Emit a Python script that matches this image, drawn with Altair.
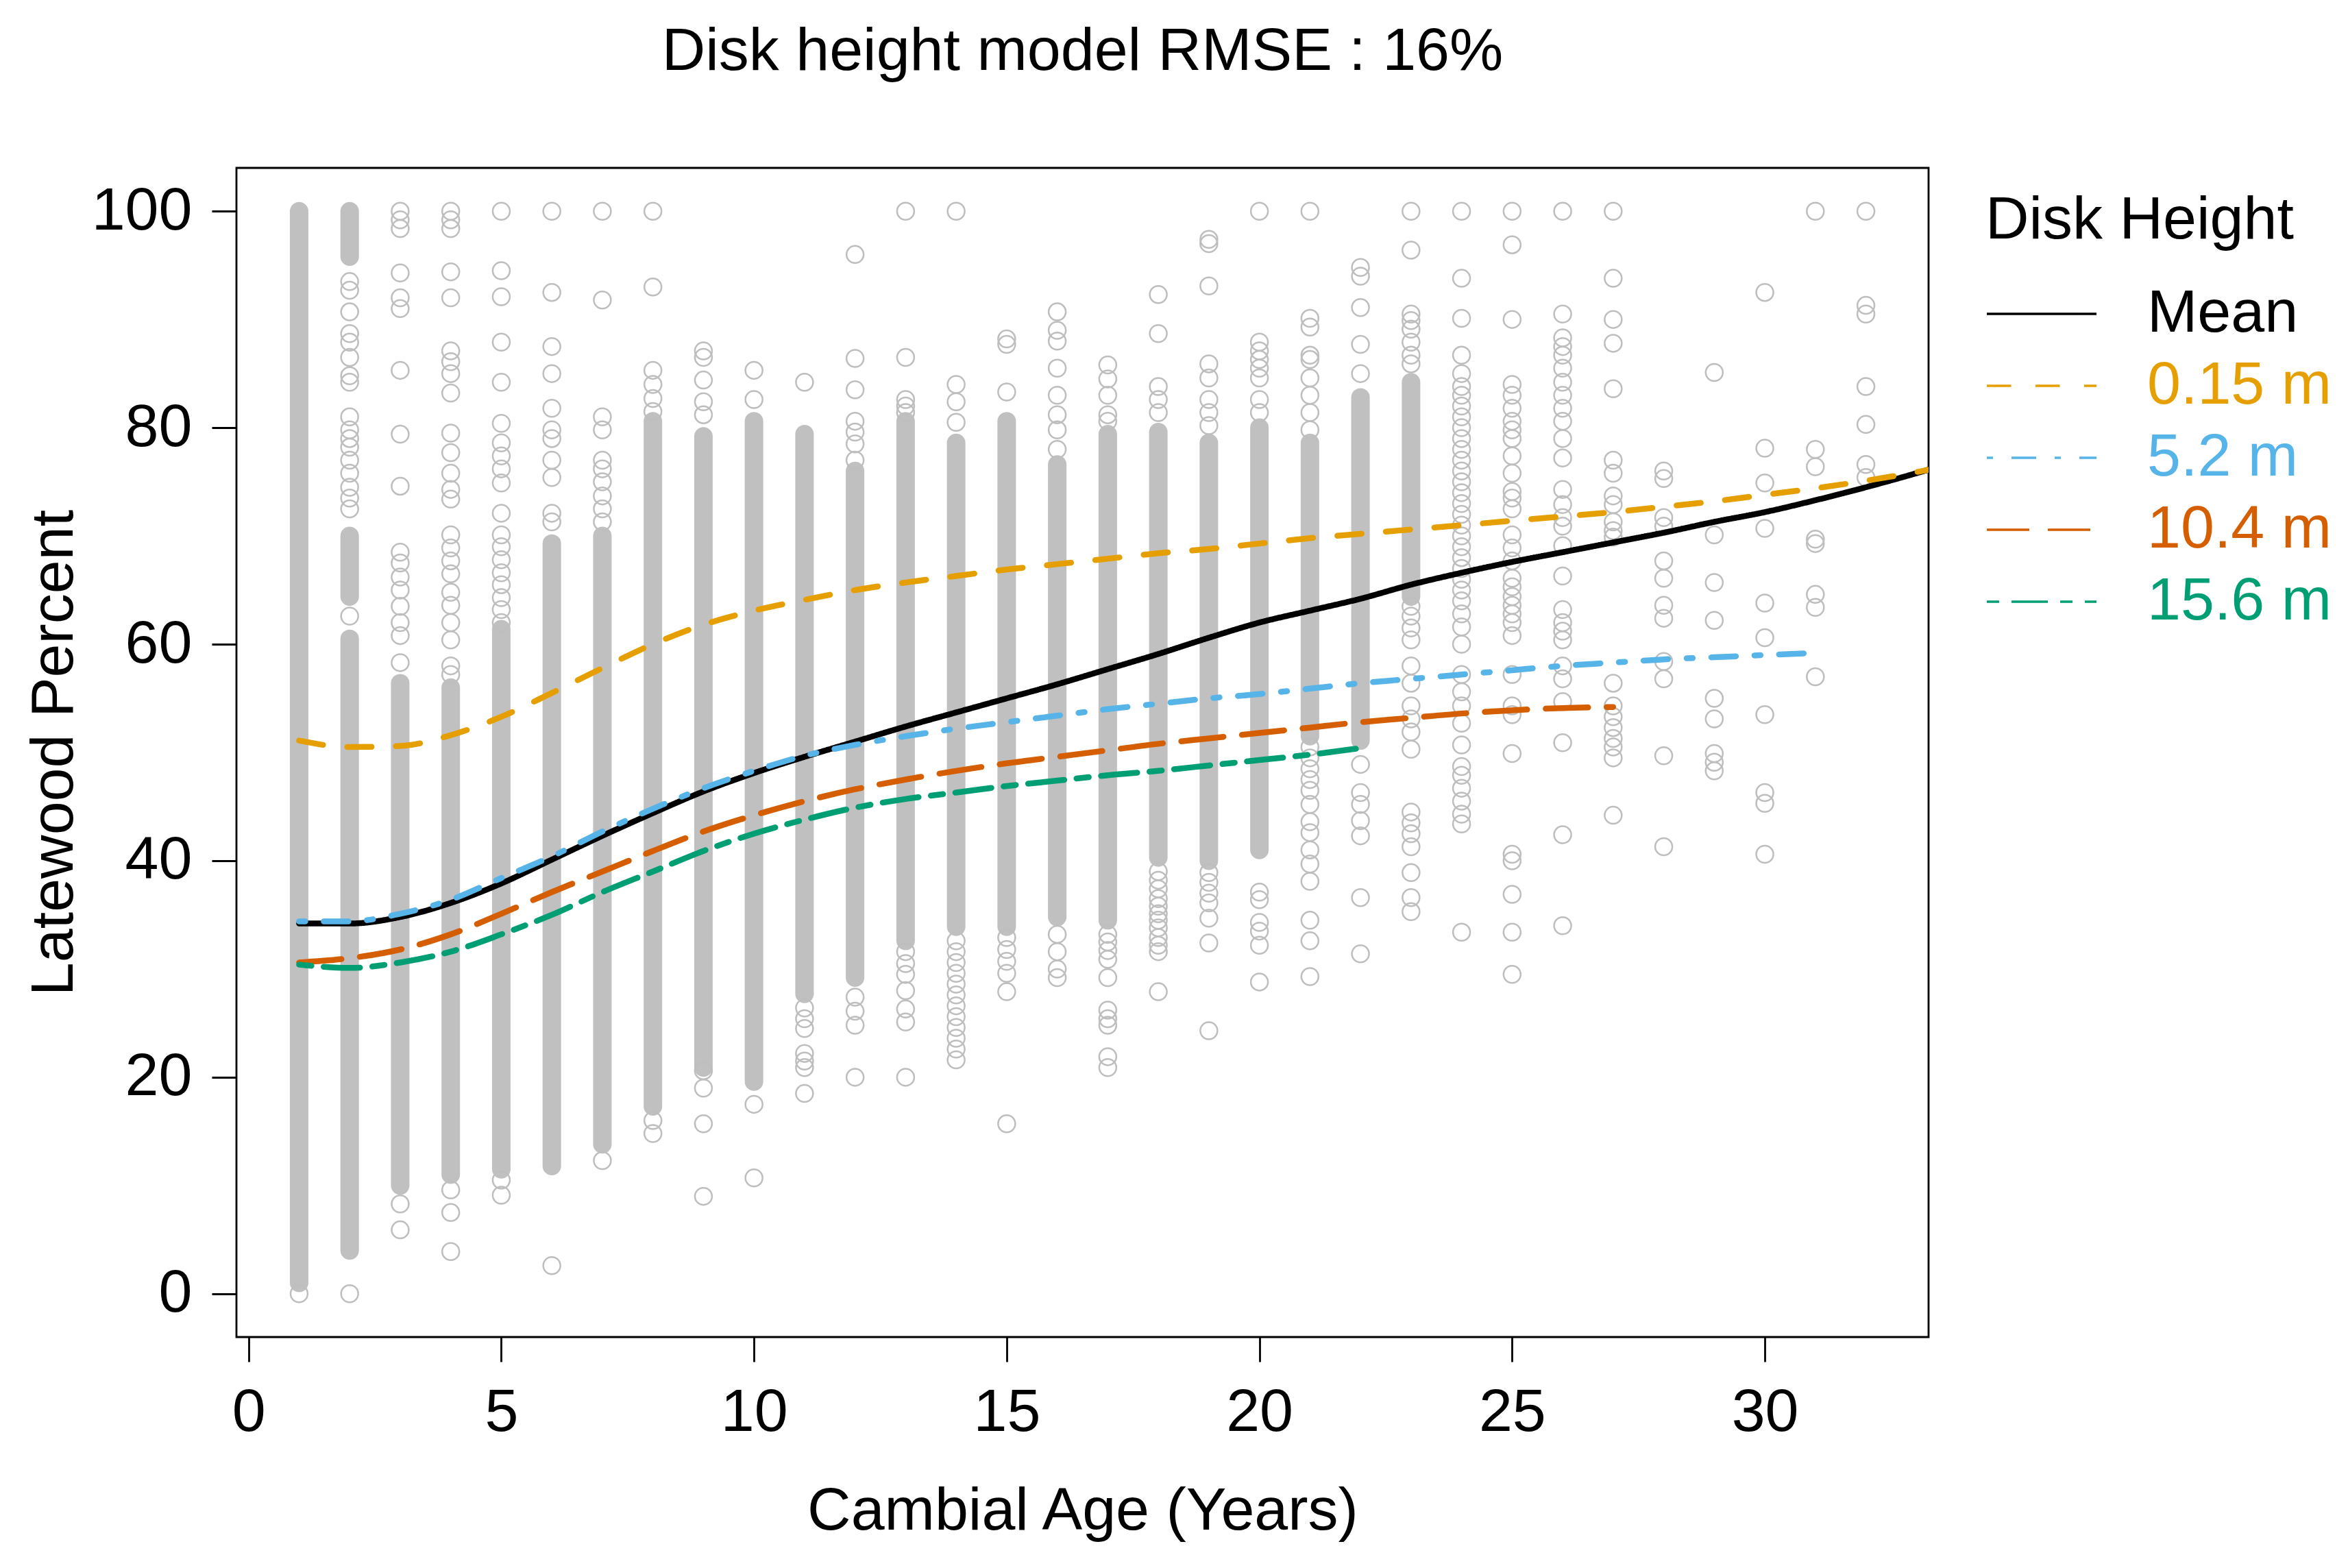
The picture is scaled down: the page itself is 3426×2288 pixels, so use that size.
import altair as alt
import pandas as pd

FONT = "Liberation Sans"

# ---------------- fitted curves ----------------
SERIES = ["Mean", "0.15 m", "5.2 m", "10.4 m", "15.6 m"]
COLORS = ["#000000", "#E69F00", "#56B4E9", "#D55E00", "#009E73"]
DASHES = [[1, 0], [35.5, 35.5], [9, 27, 36, 27], [62, 27], [18, 18, 53, 18]]

mean_age = [1, 2, 3, 4, 5, 6, 7, 8, 9, 10, 11, 12, 13, 14, 15, 16, 17, 18, 19, 20,
            21, 22, 23, 24, 25, 26, 27, 28, 29, 30, 31, 32, 33, 34]
mean_pct = [34.2, 34.2, 34.8, 36.1, 37.9, 40.1, 42.3, 44.4, 46.4, 48.1, 49.6, 51.0, 52.4,
            53.7, 55.0, 56.3, 57.7, 59.1, 60.6, 62.0, 63.1, 64.2, 65.5, 66.6, 67.6, 68.5,
            69.4, 70.3, 71.3, 72.2, 73.3, 74.5, 75.8, 77.2]

h015_age = [1, 2, 3, 4, 5, 6, 7, 8, 9, 10, 11, 12, 13, 14, 15, 16, 17, 18, 19, 20,
            21, 22, 23, 24, 25, 26, 27, 28, 29, 30, 31, 32, 33, 34]
h015_pct = [51.1, 50.5, 50.6, 51.6, 53.3, 55.5, 57.8, 60.0, 61.8, 63.1, 64.1, 65.0, 65.7,
            66.3, 66.9, 67.4, 67.9, 68.4, 68.8, 69.3, 69.8, 70.2, 70.6, 71.0, 71.4, 71.8,
            72.2, 72.7, 73.2, 73.8, 74.4, 75.1, 75.9, 76.8]

h52_age = [1, 2, 3, 4, 5, 6, 7, 8, 9, 10, 11, 12, 13, 14, 15, 16, 17, 18, 19, 20,
           21, 22, 23, 24, 25, 26, 27, 28, 29, 30, 31]
h52_pct = [34.4, 34.4, 35.1, 36.4, 38.4, 40.4, 42.7, 44.8, 46.7, 48.3, 49.7, 50.7, 51.5,
           52.2, 52.8, 53.4, 54.0, 54.5, 55.0, 55.4, 55.9, 56.4, 56.8, 57.2, 57.6, 58.0,
           58.3, 58.6, 58.8, 59.0, 59.2]

h104_age = [1, 2, 3, 4, 5, 6, 7, 8, 9, 10, 11, 12, 13, 14, 15, 16, 17, 18, 19, 20,
            21, 22, 23, 24, 25, 26, 27]
h104_pct = [30.6, 31.0, 31.8, 33.2, 35.1, 37.1, 39.0, 40.9, 42.7, 44.2, 45.5, 46.6, 47.5,
            48.3, 49.0, 49.6, 50.2, 50.8, 51.3, 51.8, 52.3, 52.8, 53.2, 53.6, 53.9, 54.1, 54.2]

h156_age = [1, 2, 3, 4, 5, 6, 7, 8, 9, 10, 11, 12, 13, 14, 15, 16, 17, 18, 19, 20, 21, 22]
h156_pct = [30.4, 30.1, 30.6, 31.6, 33.2, 35.0, 37.1, 39.0, 40.9, 42.5, 43.8, 44.9, 45.7,
            46.3, 46.9, 47.4, 47.9, 48.3, 48.8, 49.3, 49.8, 50.4]

# ---------------- observations: densely packed stretches (age, low, high) ----------------
band_age = [1, 2, 2, 2, 3, 4, 5, 6, 7, 8, 9, 10, 11, 12, 13, 14, 15, 16, 17, 18, 19, 20, 21, 22, 23]
band_lo = [1.0, 4, 64.4, 95.8, 10, 11, 11.5, 11.8, 13.8, 17.3, 20.9, 19.6, 27.7, 29.2, 32.6,
           33.9, 33.9, 34.8, 34.5, 40.3, 40, 41, 51.5, 51.1, 64.4]
band_hi = [100, 60.5, 70, 100, 56.4, 56, 61.4, 69.3, 70, 80.6, 79.2, 80.6, 79.4, 76, 80.6,
           78.6, 80.6, 76.6, 79.4, 79.6, 78.6, 80, 78.6, 82.8, 84.2]

# ---------------- observations: separate points per cambial age ----------------
p01 = [0]
p02 = [0, 62.6, 72.5, 73.5, 74.5, 75.8, 77, 78.2, 79, 79.8, 81, 84.2, 84.8, 86.5, 87.9, 88.7, 90.7, 92.7, 93.5]
p03 = [5.9, 8.3, 58.3, 60.8, 62, 63.5, 65, 66.2, 67.5, 68.5, 74.6, 79.4, 85.3, 91, 92, 94.3, 98.4, 99.2, 100]
p04 = [3.9, 7.5, 9.6, 57.2, 58, 60.4, 62, 63.6, 64.8, 66.5, 67.7, 68.9, 70.1, 73.4, 74.3, 75.8, 77.7,
       79.5, 83.2, 85, 86.1, 87.1, 92, 94.4, 98.4, 99.2, 100]
p05 = [9.1, 10.5, 62, 63.2, 64.3, 65.5, 66.6, 67.8, 69, 70.1, 72.1, 74.9, 76.2, 77.4, 78.6, 80.4, 84.2,
       87.9, 92.1, 94.5, 100]
p06 = [2.6, 71.3, 72.1, 75.4, 77, 79, 79.8, 81.8, 85, 87.5, 92.5, 100]
p07 = [12.3, 71.3, 72.5, 73.7, 75, 76.2, 77, 79.8, 81, 91.8, 100]
p08 = [14.8, 16, 81.5, 82.7, 84, 85.3, 93, 100]
p09 = [9, 15.7, 19, 20.6, 81.2, 82.4, 84.4, 86.5, 87.1]
p10 = [10.7, 17.5, 82.6, 85.3]
p11 = [18.5, 20.9, 21.5, 22.2, 24.5, 25.4, 26.4, 84.2]
p12 = [20, 24.8, 26.1, 27.4, 77, 78.5, 79.6, 80.6, 83.5, 86.4, 96]
p13 = [20, 25.1, 26.3, 28, 29.5, 30.5, 31.6, 81.4, 82, 82.6, 86.5, 100]
p14 = [21.6, 22.6, 23.6, 24.6, 25.6, 26.6, 27.6, 28.6, 29.6, 30.6, 31.6, 32.6, 80.5, 82.4, 84, 100]
p15 = [15.7, 27.9, 29.6, 30.7, 31.8, 32.9, 83.3, 87.7, 88.2]
p16 = [29.2, 30, 31.6, 33.2, 78, 79.8, 81.2, 83, 85.5, 88, 89, 90.7]
p17 = [20.9, 21.9, 24.8, 25.4, 26.2, 29.2, 30.9, 31.7, 32.5, 33.2, 80.6, 81.2, 83, 84.5, 85.8]
p18 = [27.9, 31.6, 32.2, 32.9, 33.8, 34.5, 35.1, 35.8, 36.5, 37.4, 38.2, 39, 81.4, 82.6, 83.8, 88.7, 92.3]
p19 = [24.3, 32.4, 34.7, 36.1, 37, 38, 38.9, 80.2, 81.4, 82.6, 84.6, 85.9, 93.1, 97, 97.4]
p20 = [28.8, 32.2, 33.5, 34.3, 36.4, 37.1, 81.4, 82.6, 84.6, 85.5, 86.3, 87.1, 87.9, 100]
p21 = [29.3, 32.6, 34.5, 38.1, 39.7, 41, 42.6, 43.6, 45.2, 46.5, 47.5, 48.5, 49.5, 50.5, 79.8, 81.4,
       83, 84.6, 86.3, 86.7, 89.3, 90.1, 100]
p22 = [31.4, 36.6, 42.3, 43.7, 45.2, 46.3, 48.9, 85, 87.7, 91.1, 94, 94.8]
p23 = [35.3, 36.6, 38.9, 41.3, 42.5, 43.5, 44.5, 50.3, 51.9, 53.1, 54.3, 56.4, 58, 60.4, 61.5, 62.6,
       63.5, 85.9, 86.7, 87.9, 89.1, 89.9, 90.5, 96.4, 100]
p24 = [33.4, 43.4, 44.3, 45.5, 46.7, 47.9, 48.7, 50.7, 52.7, 54.3, 55.6, 57.2, 60, 61.6, 62.8, 64, 65,
       66, 67, 68, 69, 70, 71, 72, 73, 74, 75, 76, 77, 78, 79, 80, 81, 82, 83, 83.8, 85, 86.7, 90.1,
       93.8, 100]
p25 = [29.5, 33.4, 36.9, 40, 40.6, 49.9, 53.5, 54.3, 57.2, 60.8, 62, 62.8, 63.6, 64.4, 65.3, 66.1,
       67.7, 68.9, 70.1, 72.5, 73.5, 74.1, 75.8, 77.4, 79, 79.8, 80.6, 81.8, 83, 84, 90, 96.9, 100]
p26 = [34, 42.4, 50.9, 54.7, 56.8, 58, 60.4, 61.2, 62, 63.2, 66.3, 69.1, 70.9, 71.7, 72.9, 74.3, 77.2,
       79, 80.6, 81.8, 83, 84.2, 85.5, 86.7, 87.5, 88.3, 90.5, 100]
p27 = [44.2, 49.5, 50.5, 51.3, 52.3, 53.3, 54.3, 56.4, 69.9, 70.5, 71.3, 72.9, 73.7, 75.8, 77, 83.6,
       87.8, 90, 93.8, 100]
p28 = [41.3, 49.7, 56.8, 58.4, 62.4, 63.6, 66.1, 67.7, 70.9, 71.7, 75.3, 76]
p29 = [48.3, 49.1, 49.9, 53.1, 55, 62.2, 65.7, 70.1, 85.1]
p30 = [40.6, 45.3, 46.3, 53.5, 60.6, 63.8, 70.7, 74.9, 78.1, 92.5]
p31 = [57, 63.4, 64.6, 69.3, 69.7, 76.4, 78, 100]
p32 = [75.4, 76.6, 80.3, 83.8, 90.5, 91.3, 100]

point_lists = [p01, p02, p03, p04, p05, p06, p07, p08, p09, p10, p11, p12, p13, p14, p15, p16,
               p17, p18, p19, p20, p21, p22, p23, p24, p25, p26, p27, p28, p29, p30, p31, p32]
point_ages = [1, 2, 3, 4, 5, 6, 7, 8, 9, 10, 11, 12, 13, 14, 15, 16, 17, 18, 19, 20, 21, 22,
              23, 24, 25, 26, 27, 28, 29, 30, 31, 32]

# ---------------- tables ----------------
pts_rows = []
for a, vals in zip(point_ages, point_lists):
    for v in vals:
        pts_rows.append({"age": a, "pct": v})
pts_df = pd.DataFrame(pts_rows)

band_df = pd.DataFrame({"age": band_age, "lo": band_lo, "hi": band_hi})

mean_df = pd.DataFrame({"age": mean_age, "pct": mean_pct, "series": "Mean"})
others_df = pd.concat([
    pd.DataFrame({"age": h015_age, "pct": h015_pct, "series": "0.15 m"}),
    pd.DataFrame({"age": h52_age, "pct": h52_pct, "series": "5.2 m"}),
    pd.DataFrame({"age": h104_age, "pct": h104_pct, "series": "10.4 m"}),
    pd.DataFrame({"age": h156_age, "pct": h156_pct, "series": "15.6 m"}),
], ignore_index=True)
# line style key (same categories, separate field so the legend keeps its own short dashes)
mean_df["style"] = mean_df["series"]
others_df["style"] = others_df["series"]

# ---------------- scales / axes ----------------
xs = alt.Scale(domain=[-0.24, 33.24], nice=False, zero=False)
ys = alt.Scale(domain=[-4, 104], nice=False, zero=False)

xaxis = alt.Axis(values=[0, 5, 10, 15, 20, 25, 30], title="Cambial Age (Years)", grid=False,
                 domain=False, tickSize=36, tickWidth=2.8, tickColor="black",
                 labelFont=FONT, labelFontSize=88, labelColor="black", labelPadding=30,
                 labelFlush=False, labelOverlap=False,
                 titleFont=FONT, titleFontSize=88, titleFontWeight="normal", titleColor="black",
                 titlePadding=56)
yaxis = alt.Axis(values=[0, 20, 40, 60, 80, 100], title="Latewood Percent", grid=False,
                 domain=False, tickSize=36, tickWidth=2.8, tickColor="black",
                 labelFont=FONT, labelFontSize=88, labelColor="black", labelPadding=29,
                 labelAngle=0, labelFlush=False, labelOverlap=False,
                 titleFont=FONT, titleFontSize=88, titleFontWeight="normal", titleColor="black",
                 titlePadding=22)

dash_expr = ("datum.value === '0.15 m' ? [14,14] : datum.value === '5.2 m' ? [3.5,10.5,14,10.5] : "
             "datum.value === '10.4 m' ? [24.5,10.5] : datum.value === '15.6 m' ? [7,7,21,7] : [1,0]")

legend = alt.Legend(
    title="Disk Height", orient="none", legendX=2552, legendY=33,
    titleFont=FONT, titleFontSize=88, titleFontWeight="normal", titleColor="black",
    titlePadding=48, titleAnchor="start", titleLimit=3000,
    labelFont=FONT, labelFontSize=88, labelOffset=72, labelLimit=3000,
    labelColor={"expr": "scale('color', datum.value)"},
    symbolType="stroke", symbolSize=25600, symbolStrokeWidth=3.3,
    symbolDash={"expr": dash_expr},
    clipHeight=88, rowPadding=17, padding=0,
)

color_enc = alt.Color("series:N", scale=alt.Scale(domain=SERIES, range=COLORS), legend=legend)
dash_enc = alt.StrokeDash("style:N", scale=alt.Scale(domain=SERIES, range=DASHES), legend=None)

bands = alt.Chart(band_df).mark_rule(strokeWidth=27, strokeCap="round", color="#C0C0C0").encode(
    x=alt.X("age:Q", scale=xs, axis=xaxis),
    y=alt.Y("lo:Q", scale=ys, axis=yaxis),
    y2="hi:Q",
)

points = alt.Chart(pts_df).mark_point(shape="circle", filled=False, size=625, strokeWidth=2.5,
                                      color="#BEBEBE", opacity=1).encode(
    x=alt.X("age:Q", scale=xs, axis=xaxis),
    y=alt.Y("pct:Q", scale=ys, axis=yaxis),
)

mean_line = alt.Chart(mean_df).mark_line(strokeWidth=8.5, strokeCap="round", interpolate="monotone",
                                         clip=True).encode(
    x=alt.X("age:Q", scale=xs, axis=xaxis),
    y=alt.Y("pct:Q", scale=ys, axis=yaxis),
    color=color_enc,
    strokeDash=dash_enc,
)

other_lines = alt.Chart(others_df).mark_line(strokeWidth=8.5, strokeCap="round",
                                             interpolate="monotone", clip=True).encode(
    x=alt.X("age:Q", scale=xs, axis=xaxis),
    y=alt.Y("pct:Q", scale=ys, axis=yaxis),
    color=color_enc,
    strokeDash=dash_enc,
    detail="series:N",
)

chart = alt.layer(bands, points, mean_line, other_lines).properties(
    width=2469, height=1706,
    autosize=alt.AutoSizeParams(type="none"),
    padding={"left": 337, "top": 237, "right": 604, "bottom": 320},
    title=alt.TitleParams("Disk height model RMSE : 16%", font=FONT, fontSize=88,
                          fontWeight="normal", color="black", anchor="middle", offset=125),
).configure_view(stroke="black", strokeWidth=2.8)

chart.save("out.html", embed_options={"renderer": "svg", "actions": False})
